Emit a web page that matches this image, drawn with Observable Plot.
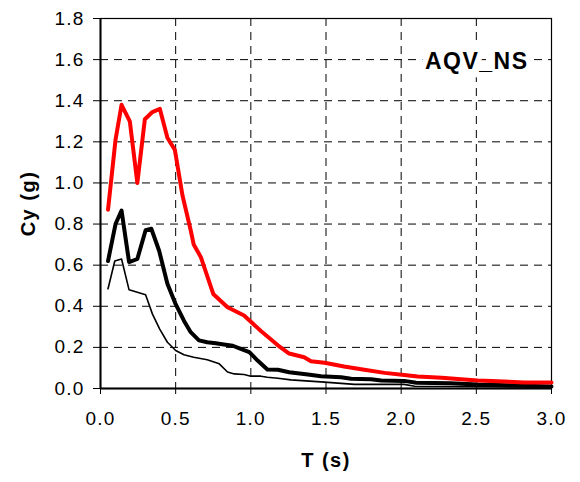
<!DOCTYPE html>
<html>
<head>
<meta charset="utf-8">
<script src="https://cdn.jsdelivr.net/npm/d3@7"></script>
<script src="https://cdn.jsdelivr.net/npm/@observablehq/plot@0.6"></script>
<style>
  html, body { margin: 0; padding: 0; background: #fff; }
  #chart { width: 580px; height: 482px; }
</style>
</head>
<body>
<div id="chart"></div>
<script>
// Period T (s) and Cy (g) for each curve
const redT = [0.05,0.10,0.14,0.195,0.245,0.295,0.345,0.395,0.445,0.495,0.545,0.60,0.62,0.667,0.75,0.845,0.955,1.067,1.18,1.255,1.355,1.40,1.49,1.62,1.755,1.89,2.02,2.11,2.27,2.42,2.51,2.60,2.82,3.0];
const redCy = [0.87,1.21,1.38,1.30,1.00,1.31,1.345,1.36,1.22,1.16,0.94,0.77,0.70,0.64,0.46,0.395,0.355,0.28,0.21,0.17,0.152,0.133,0.125,0.107,0.091,0.076,0.066,0.058,0.052,0.044,0.039,0.037,0.029,0.029];

const thickT = [0.05,0.10,0.14,0.19,0.245,0.30,0.338,0.39,0.445,0.50,0.555,0.60,0.655,0.71,0.767,0.82,0.88,0.933,0.99,1.045,1.11,1.18,1.255,1.38,1.467,1.60,1.667,1.80,1.867,2.02,2.10,2.33,2.51,2.71,3.0];
const thickCy = [0.62,0.80,0.866,0.615,0.63,0.77,0.777,0.67,0.51,0.41,0.33,0.274,0.234,0.225,0.22,0.214,0.208,0.193,0.177,0.136,0.092,0.091,0.079,0.068,0.06,0.055,0.047,0.045,0.039,0.037,0.028,0.026,0.019,0.016,0.01];

const thinT = [0.05,0.095,0.14,0.19,0.30,0.345,0.393,0.445,0.50,0.555,0.62,0.71,0.79,0.845,0.89,0.955,1.0,1.067,1.11,1.18,1.267,1.49,1.69,2.02,2.09,2.38,3.0];
const thinCy = [0.485,0.62,0.63,0.48,0.456,0.363,0.29,0.225,0.185,0.164,0.152,0.14,0.12,0.08,0.071,0.068,0.06,0.06,0.055,0.05,0.042,0.031,0.02,0.02,0.011,0.01,0.006];

const xTicks = [0, 0.5, 1.0, 1.5, 2.0, 2.5, 3.0];
const yTicks = [0, 0.2, 0.4, 0.6, 0.8, 1.0, 1.2, 1.4, 1.6, 1.8];
const titleText = ["AQV_NS"];

const red = redT.map((t, i) => ({T: t, Cy: redCy[i]}));
const thick = thickT.map((t, i) => ({T: t, Cy: thickCy[i]}));
const thin = thinT.map((t, i) => ({T: t, Cy: thinCy[i]}));

const chart = Plot.plot({
  width: 580,
  height: 482,
  marginLeft: 100,
  marginRight: 29,
  marginTop: 18,
  marginBottom: 94,
  style: {fontFamily: "'Liberation Sans', Arial, sans-serif", fontSize: "19px", color: "#000", background: "#fff"},
  x: {domain: [0, 3]},
  y: {domain: [0, 1.8]},
  marks: [
    Plot.gridX(xTicks.slice(1, -1), {stroke: "#000", strokeOpacity: 1, strokeWidth: 1, strokeDasharray: "8,6"}),
    Plot.gridY(yTicks.slice(1, -1), {stroke: "#000", strokeOpacity: 1, strokeWidth: 1, strokeDasharray: "8,6"}),
    Plot.frame({stroke: "#000", strokeWidth: 1.2}),
    Plot.text(titleText, {frameAnchor: "top-right", text: d => d, dx: -23, dy: 50, lineAnchor: "bottom", textAnchor: "end", fontSize: 23, fontWeight: "bold", fill: "#000", stroke: "#fff", strokeWidth: 12, paintOrder: "stroke"}),
    Plot.line(thin, {x: "T", y: "Cy", stroke: "#000", strokeWidth: 1.6}),
    Plot.line(thick, {x: "T", y: "Cy", stroke: "#000", strokeWidth: 4}),
    Plot.line(red, {x: "T", y: "Cy", stroke: "#ff0000", strokeWidth: 4}),
    Plot.ruleX([0], {stroke: "#000", strokeWidth: 2}),
    Plot.ruleY([0], {stroke: "#000", strokeWidth: 2}),
    Plot.axisX({ticks: xTicks, tickFormat: d3.format(".1f"), tickSize: 6, tickPadding: 17, label: "T (s)", labelAnchor: "center", labelArrow: "none", labelOffset: 78, fontSize: 19}),
    Plot.axisY({ticks: yTicks, tickFormat: d3.format(".1f"), tickSize: 7, tickPadding: 9, label: "Cy (g)", labelAnchor: "center", labelArrow: "none", labelOffset: 80, fontSize: 19})
  ]
});
document.getElementById("chart").appendChild(chart);
// tick labels slightly wider, axis labels bold
chart.querySelectorAll("[aria-label='x-axis tick label'] text, [aria-label='y-axis tick label'] text").forEach(t => {
  t.setAttribute("letter-spacing", "1.2");
});
chart.querySelectorAll("[aria-label='x-axis label'] text, [aria-label='y-axis label'] text").forEach(t => {
  t.setAttribute("font-weight", "bold");
  t.setAttribute("font-size", "20");
  t.setAttribute("letter-spacing", "1.5");
});
chart.querySelectorAll("[aria-label='text'] text").forEach(t => {
  t.setAttribute("letter-spacing", "1.5");
});
</script>
</body>
</html>
